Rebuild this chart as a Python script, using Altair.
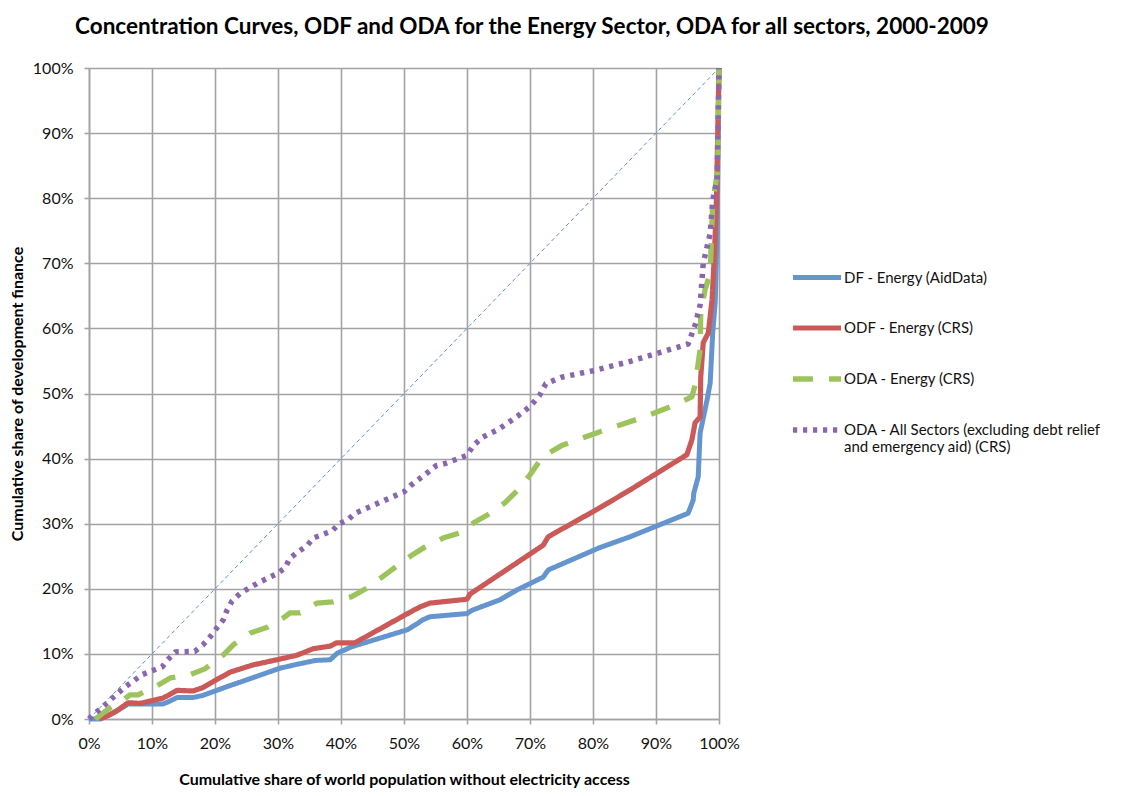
import altair as alt
import pandas as pd

series_names = [
    "DF - Energy (AidData)",
    "ODF - Energy (CRS)",
    "ODA - Energy (CRS)",
    "ODA - All Sectors (excluding debt relief and emergency aid) (CRS)",
]
series_colors = ["#6595CF", "#CB5957", "#9DC45C", "#8A67AD"]

df_x = [0, 1.7, 4, 6.2, 11.7, 12.5, 14, 16.5, 18, 22, 25, 30.3, 33, 36, 38.3, 39.4, 41.7,
        50.5, 52.2, 52.9, 54.1, 60, 60.8, 65.2, 67.9, 72.1, 72.9, 81, 85.9, 95.1, 95.9,
        96.0, 96.7, 97, 98.1, 98.6, 99, 99.4, 99.7, 100]
df_y = [0, 0, 1, 2.3, 2.3, 2.6, 3.3, 3.3, 3.6, 5, 6, 7.8, 8.4, 9, 9.1, 10.1, 11.1,
        13.7, 14.7, 15.2, 15.7, 16.2, 16.7, 18.3, 19.8, 21.8, 22.9, 26.3, 28, 31.6, 33.6,
        34.7, 37.2, 43.9, 49, 51.6, 59.3, 64, 75, 100]

odf_x = [1.7, 3, 4.5, 6.2, 8.1, 11.7, 12.5, 14, 16.5, 18, 22.4, 26, 30.3, 33, 35.6, 38.3,
         39.3, 42.2, 50.2, 52.5, 54.1, 60, 60.5, 72.1, 72.9, 81, 85.9, 94.9, 95.7, 96.2,
         97, 97.1, 97.5, 98.3, 98.9, 99.3, 99.6, 99.8, 100]
odf_y = [0, 0.5, 1.3, 2.5, 2.4, 3.2, 3.6, 4.4, 4.3, 4.8, 7.2, 8.3, 9.2, 9.8, 10.8, 11.2,
         11.7, 11.7, 16, 17.2, 17.8, 18.4, 19.2, 26.7, 28, 32.4, 35.2, 40.6, 42.9, 45.5,
         46.4, 52.5, 57.8, 59.3, 64.4, 72, 80, 90, 100]

oda_x = [1, 2.9, 4.5, 5.4, 6.5, 7.8, 9, 10.8, 12.9, 16, 18.4, 21.3, 22.9, 25.6, 28.3, 30.8,
         31.9, 33.5, 36.2, 38.7, 41.7, 44.1, 46.5, 48.9, 51.3, 53.3, 56.2, 58.9, 61, 63.7,
         66, 68.1, 70, 72, 75, 81, 87.5, 92.7, 95.7, 96.2, 97, 97.1, 97.8, 98.6, 99, 99.8, 100]
oda_y = [0, 1.4, 2.5, 2.9, 3.7, 3.7, 4.3, 5.1, 6.3, 6.8, 7.7, 9.8, 11.4, 13.2, 14.1, 15.5,
         16.3, 16.3, 17.8, 18, 18.8, 20.1, 21.8, 23.5, 25.2, 26.4, 27.8, 28.6, 30.1, 31.6,
         33.2, 35.2, 37.5, 40.3, 42, 44.1, 46.2, 48.1, 49.5, 51.3, 56.7, 62.4, 66, 68.5,
         79.3, 84.3, 100]

all_x = [0, 0.6, 2, 3, 4.4, 5.7, 7, 8.4, 10, 11.6, 12.5, 13.7, 16.8, 18.1, 19.2, 20.3, 21.3,
         21.9, 22.7, 24, 26.8, 29.8, 31.1, 31.9, 33.2, 34.6, 35.6, 38.6, 39.7, 41.1, 42.2,
         50, 51.1, 53.8, 55.1, 56.7, 60, 61, 62.5, 65, 68, 70, 71.5, 72.5, 75, 80, 85.4,
         90.3, 95.1, 96.2, 97, 97.5, 98.6, 99, 99.7, 100]
all_y = [0, 0.6, 1.7, 2.6, 3.8, 4.9, 5.8, 6.8, 7.4, 8, 9.1, 10.3, 10.4, 11.4, 12.6, 14, 15.2,
         16.7, 18.1, 19.3, 20.9, 22.3, 23.2, 24.7, 25.7, 26.6, 27.8, 28.9, 30, 30.6, 31.6,
         34.9, 35.9, 37.9, 38.9, 39.3, 40.5, 42, 43.3, 44.5, 46.5, 48, 49.7, 51.5, 52.5,
         53.5, 54.8, 56.2, 57.6, 60.5, 63.6, 70, 74.6, 79.7, 82.8, 100]

diag_x = [0, 100]
diag_y = [0, 100]
tick_values = [0, 10, 20, 30, 40, 50, 60, 70, 80, 90, 100]

rows = []
for name, xs, ys in zip(series_names, [df_x, odf_x, oda_x, all_x], [df_y, odf_y, oda_y, all_y]):
    for i, (a, b) in enumerate(zip(xs, ys)):
        rows.append({"series": name, "x": a, "y": b, "i": i})
data = pd.DataFrame(rows)
diag = pd.DataFrame({"x": diag_x, "y": diag_y})

FONT = "Lato"
GRID = "#A3A3A3"
common_axis = dict(
    labelExpr="datum.value + '%'", grid=True, gridColor=GRID, gridOpacity=1, gridWidth=1.6,
    domainColor=GRID, domainWidth=1.6, tickColor=GRID, tickWidth=1.6, tickSize=5,
    titleFont=FONT, titleFontSize=16, titleFontWeight="bold", titleColor="#000",
    labelFont=FONT, labelFontSize=16, labelColor="#111", labelFlush=False,
)
x_axis = alt.Axis(
    values=tick_values,
    title="Cumulative share of world population without electricity access",
    titlePadding=20, labelPadding=11, **common_axis,
)
y_axis = alt.Axis(
    values=tick_values,
    title="Cumulative  share of development finance",
    titlePadding=7, labelPadding=11, **common_axis,
)
xs = alt.Scale(domain=[0, 100], nice=False)
ys = alt.Scale(domain=[0, 100], nice=False)

diag_layer = alt.Chart(diag).mark_line(
    color="#5B8ED0", strokeWidth=1, strokeDash=[4, 3]
).encode(
    x=alt.X("x:Q", scale=xs, axis=x_axis),
    y=alt.Y("y:Q", scale=ys, axis=y_axis),
)

legend = alt.Legend(
    orient="none", legendX=701, legendY=183, title=None,
    symbolType="stroke", symbolSize=2304, rowPadding=13,
    labelFont=FONT, labelFontSize=15, labelColor="#111", labelOffset=0, labelLimit=400,
    labelExpr=("indexof(datum.label, 'All Sectors') >= 0 ? "
               "['ODA - All Sectors (excluding debt relief', 'and emergency aid) (CRS)'] : datum.label"),
)

lines = alt.Chart(data).mark_line(strokeCap="butt", strokeJoin="round").encode(
    x=alt.X("x:Q", scale=xs, axis=x_axis),
    y=alt.Y("y:Q", scale=ys, axis=y_axis),
    color=alt.Color("series:N", scale=alt.Scale(domain=series_names, range=series_colors), legend=legend),
    strokeDash=alt.StrokeDash("series:N", scale=alt.Scale(domain=series_names, range=[[1, 0], [1, 0], [20, 16], [4.2, 5.8]]), legend=legend),
    strokeWidth=alt.StrokeWidth("series:N", scale=alt.Scale(domain=series_names, range=[5, 5.5, 5, 4.5]), legend=legend),
    order="i:Q",
)

chart = alt.layer(diag_layer, lines).properties(
    width=630, height=651,
    autosize=alt.AutoSizeParams(type="none"),
    padding={"left": 81, "top": 60, "right": 395, "bottom": 69},
    title=alt.TitleParams(
        "Concentration Curves, ODF and ODA for the Energy Sector, ODA for all sectors, 2000-2009",
        font=FONT, fontSize=22.5, fontWeight="bold", color="#000",
        anchor="middle", baseline="alphabetic", offset=4, dx=128,
    ),
).configure_view(
    fill="#EBEBEB", stroke=GRID, strokeWidth=2,
).configure(background="white")

chart.save("out.html", embed_options={"renderer": "svg", "actions": False})
